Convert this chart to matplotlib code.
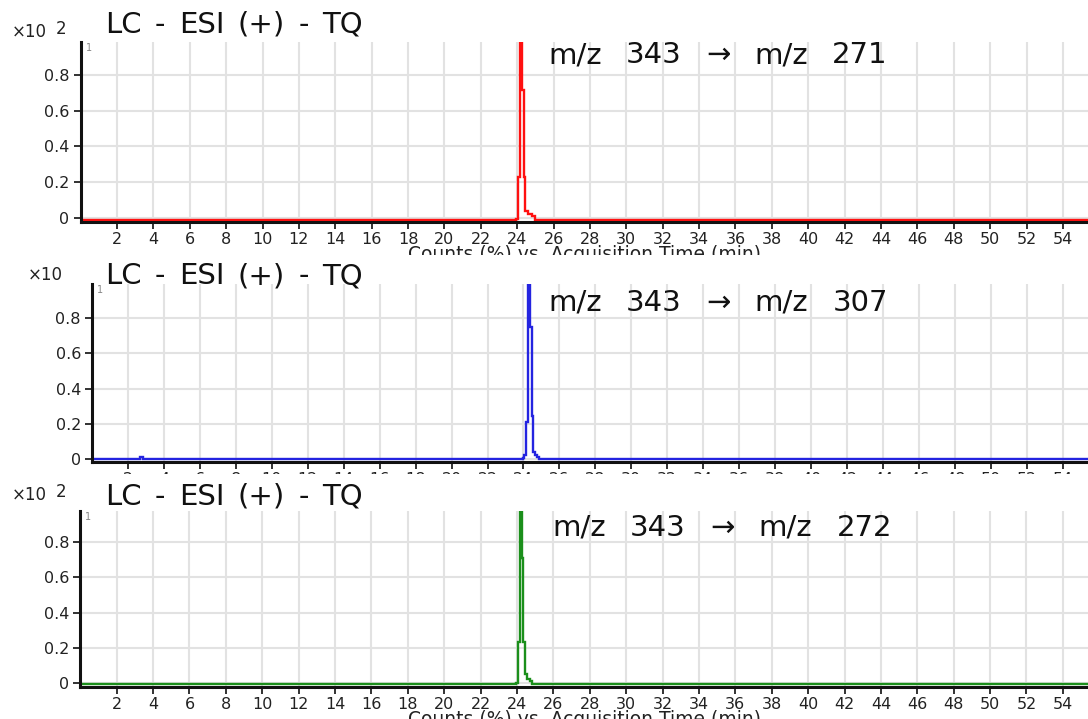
import matplotlib
matplotlib.use("Agg")
import matplotlib.pyplot as plt
from matplotlib.patches import Rectangle

# ---------------- data ----------------
title_text = "LC - ESI (+) - TQ"
xlabel_text = "Counts (%) vs. Acquisition Time (min)"
transitions = ["m/z 343 \u2192 m/z 271", "m/z 343 \u2192 m/z 307", "m/z 343 \u2192 m/z 272"]
scale_labels = [("\u00d710", "2"), ("\u00d710", ""), ("\u00d710", "2")]
x_ticks = list(range(2, 56, 2))
y_ticks = [0, 0.2, 0.4, 0.6, 0.8]
y_ticklabels = ["0", "0.2", "0.4", "0.6", "0.8"]

red_time = [0.0, 23.9, 24.0, 24.1, 24.2, 24.3, 24.4, 24.5, 24.7, 24.9, 25.1, 55.4]
red_counts = [-0.01, -0.01, -0.005, 0.23, 1.05, 0.715, 0.23, 0.04, 0.02, 0.01, -0.01, -0.01]

blue_time = [0.0, 2.6, 2.75, 2.9, 23.9, 24.0, 24.1, 24.2, 24.3, 24.4, 24.5, 24.6, 24.7, 24.8, 24.9, 55.4]
blue_counts = [0.0, 0.0, 0.012, 0.0, 0.0, 0.005, 0.02, 0.21, 1.05, 0.75, 0.245, 0.04, 0.02, 0.01, 0.0, 0.0]

green_time = [0.0, 23.9, 24.0, 24.1, 24.2, 24.3, 24.4, 24.5, 24.6, 24.8, 24.9, 55.4]
green_counts = [-0.005, -0.005, 0.0, 0.235, 1.05, 0.71, 0.235, 0.05, 0.02, 0.01, -0.005, -0.005]

series = [(red_time, red_counts, "#ff1010"),
          (blue_time, blue_counts, "#2424e0"),
          (green_time, green_counts, "#1b8f1b")]

# ---------------- layout (pixels) ----------------
W, H = 1088, 719
fig = plt.figure(figsize=(W / 100, H / 100), dpi=100)
fig.patch.set_facecolor("white")
renderer = fig.canvas.get_renderer()

# (left, top, bottom_spine, xlim_right, ylim_bottom, ylim_top)
panels = [
    (80.6, 42, 222, 55.38, -0.022, 0.983),
    (92.0, 284, 462, 55.40, -0.017, 0.994),
    (80.3, 511, 687, 55.38, -0.023, 0.977),
]
title_y = [25, 276, 497]
title_span = (105, 363)
scale_y = [32, 275, 495]
scale_x = [12, 28, 12]
note_y = [55, 303, 528]
note_span = [(548, 888), (548, 888), (552, 892)]
mask_tops = [255, 474]


def fx(px):
    return px / W


def fy(py):
    return 1 - py / H


BIG = dict(fontsize=21, family="DejaVu Sans", color="#111111", ha="left", va="center")


def spread_words(ax, text, x0, x1, y):
    """Place the words of text evenly between pixel x0 and x1 (wide lettering)."""
    arts = [ax.text(0, fy(y), w, transform=fig.transFigure, **BIG) for w in text.split(" ")]
    widths = [a.get_window_extent(renderer).width for a in arts]
    gap = (x1 - x0 - sum(widths)) / max(len(arts) - 1, 1)
    x = x0
    for a, w in zip(arts, widths):
        a.set_x(fx(x))
        x += w + gap


for i, ((left, top, bottom, xr, yb, yt), (t, c, col)) in enumerate(zip(panels, series)):
    z = 2 * i + 1
    ax = fig.add_axes([fx(left), fy(bottom), fx(W - left), (bottom - top) / H])
    ax.set_zorder(z)
    ax.set_xlim(0, xr)
    ax.set_ylim(yb, yt)
    ax.plot(t, c, color=col, lw=1.7, drawstyle="steps-mid", solid_joinstyle="miter")

    ax.set_xticks(x_ticks)
    ax.set_yticks(y_ticks)
    ax.set_yticklabels(y_ticklabels)
    ax.grid(True, color="#e2e2e2", lw=1.5)
    ax.set_axisbelow(True)
    for s in ["top", "right"]:
        ax.spines[s].set_visible(False)
    for s in ["left", "bottom"]:
        ax.spines[s].set_linewidth(2.2)
        ax.spines[s].set_color("#111111")
    ax.tick_params(axis="both", direction="out", length=5, width=1.3, color="#222222",
                   labelsize=11.5, labelcolor="#222222", pad=2)
    ax.tick_params(axis="y", pad=3)

    ax.set_xlabel(xlabel_text, fontsize=13.5, color="#222222", labelpad=-1)

    # small trace number
    ax.text(fx(left + 5), fy(top + 6), "1", transform=fig.transFigure, fontsize=7,
            color="#888888", ha="left", va="center")
    # title
    spread_words(ax, title_text, title_span[0], title_span[1], title_y[i])
    # scale factor
    base, exp = scale_labels[i]
    ax.text(fx(scale_x[i]), fy(scale_y[i]), base, transform=fig.transFigure, fontsize=12,
            color="#222222", ha="left", va="center")
    if exp:
        ax.text(fx(scale_x[i] + 44), fy(scale_y[i] - 3), exp, transform=fig.transFigure,
                fontsize=12, color="#222222", ha="left", va="center")
    # transition annotation
    spread_words(ax, transitions[i], note_span[i][0], note_span[i][1], note_y[i])

    if i < 2:
        fig.add_artist(Rectangle((0, 0), 1, fy(mask_tops[i]), transform=fig.transFigure,
                                 facecolor="white", edgecolor="none", zorder=z + 1))

fig.savefig("out.png", dpi=100, facecolor="white")
